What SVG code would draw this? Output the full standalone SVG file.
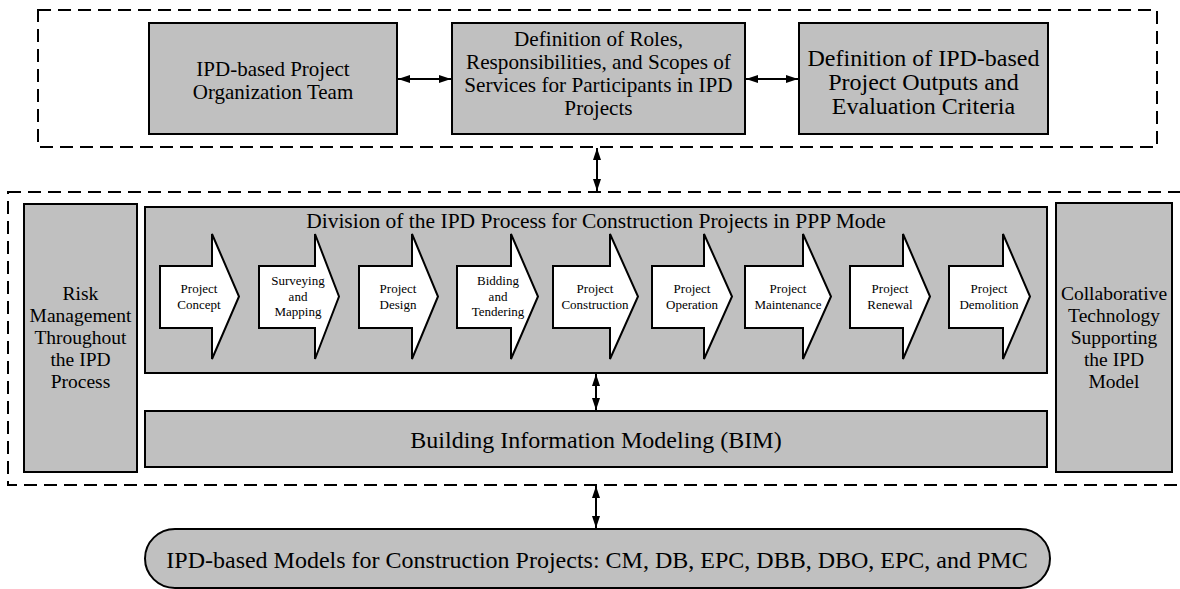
<svg xmlns="http://www.w3.org/2000/svg" width="1180" height="589" viewBox="0 0 1180 589">
<style>
.box{fill:#c0c0c0;stroke:#000;stroke-width:2}
.dash{fill:none;stroke:#000;stroke-width:2;stroke-dasharray:13,7}
.chev{fill:#fff;stroke:#000;stroke-width:2;stroke-linejoin:miter}
.t{font-family:"Liberation Serif","Times New Roman",serif;fill:#000;text-anchor:middle}
.c{font-size:13px}
.conn{stroke:#000;stroke-width:2;fill:none;marker-start:url(#ah);marker-end:url(#ah)}
</style>
<defs>
<marker id="ah" viewBox="0 0 12 8" refX="12" refY="4" markerWidth="12" markerHeight="8" markerUnits="userSpaceOnUse" orient="auto-start-reverse">
<path d="M0,0 L12,4 L0,8 Z" fill="#000"/>
</marker>
</defs>
<rect width="1180" height="589" fill="#fff"/>

<g id="top-group">
<rect class="dash" x="38" y="10" width="1119" height="137"/>
</g>
<g id="mid-group">
<rect class="dash" x="8" y="192" width="1178" height="293"/>
</g>

<g id="team">
<rect class="box" x="149" y="23" width="248" height="111"/>
<text class="t" font-size="21" x="273" y="76">IPD-based Project</text>
<text class="t" font-size="21" x="273" y="99">Organization Team</text>
</g>
<g id="roles">
<rect class="box" x="452" y="23" width="293" height="111"/>
<text class="t" font-size="21.2" x="598.5" y="45.5">Definition of Roles,</text>
<text class="t" font-size="21.2" x="598.5" y="68.5">Responsibilities, and Scopes of</text>
<text class="t" font-size="21.2" x="598.5" y="91.5">Services for Participants in IPD</text>
<text class="t" font-size="21.2" x="598.5" y="114.5">Projects</text>
</g>
<g id="outputs">
<rect class="box" x="799" y="23" width="249" height="111"/>
<text class="t" font-size="24" x="923.5" y="66">Definition of IPD-based</text>
<text class="t" font-size="24" x="923.5" y="90">Project Outputs and</text>
<text class="t" font-size="24" x="923.5" y="114">Evaluation Criteria</text>
</g>

<g id="risk">
<rect class="box" x="24" y="204" width="113" height="268"/>
<text class="t" font-size="19.5" x="80.5" y="300">Risk</text>
<text class="t" font-size="19.5" x="80.5" y="322">Management</text>
<text class="t" font-size="19.5" x="80.5" y="344">Throughout</text>
<text class="t" font-size="19.5" x="80.5" y="366">the IPD</text>
<text class="t" font-size="19.5" x="80.5" y="388">Process</text>
</g>
<g id="collab">
<rect class="box" x="1056" y="203" width="116" height="269"/>
<text class="t" font-size="19.5" x="1114" y="300">Collaborative</text>
<text class="t" font-size="19.5" x="1114" y="322">Technology</text>
<text class="t" font-size="19.5" x="1114" y="344">Supporting</text>
<text class="t" font-size="19.5" x="1114" y="366">the IPD</text>
<text class="t" font-size="19.5" x="1114" y="388">Model</text>
</g>

<g id="division">
<rect class="box" x="145" y="207" width="902" height="166"/>
<text class="t" font-size="21.5" x="596" y="228">Division of the IPD Process for Construction Projects in PPP Mode</text>
</g>

<g id="stage1">
<path class="chev" d="M160,266 H212 V234 L239,296.5 L212,359 V328 H160 Z"/>
<text class="t c" x="199" y="293">Project</text>
<text class="t c" x="199" y="308.5">Concept</text>
</g>
<g id="stage2">
<path class="chev" d="M259,266 H315 V234 L339,296.5 L315,359 V328 H259 Z"/>
<text class="t c" x="298" y="285">Surveying</text>
<text class="t c" x="298" y="300.5">and</text>
<text class="t c" x="298" y="316">Mapping</text>
</g>
<g id="stage3">
<path class="chev" d="M359,266 H412 V234 L438,296.5 L412,359 V328 H359 Z"/>
<text class="t c" x="398" y="293">Project</text>
<text class="t c" x="398" y="308.5">Design</text>
</g>
<g id="stage4">
<path class="chev" d="M457,266 H511 V234 L538,296.5 L511,359 V328 H457 Z"/>
<text class="t c" x="498" y="285">Bidding</text>
<text class="t c" x="498" y="300.5">and</text>
<text class="t c" x="498" y="316">Tendering</text>
</g>
<g id="stage5">
<path class="chev" d="M553,266 H610 V234 L638,296.5 L610,359 V328 H553 Z"/>
<text class="t c" x="595" y="293">Project</text>
<text class="t c" x="595" y="308.5">Construction</text>
</g>
<g id="stage6">
<path class="chev" d="M652,266 H704 V234 L732,296.5 L704,359 V328 H652 Z"/>
<text class="t c" x="692" y="293">Project</text>
<text class="t c" x="692" y="308.5">Operation</text>
</g>
<g id="stage7">
<path class="chev" d="M745,266 H803 V234 L831,296.5 L803,359 V328 H745 Z"/>
<text class="t c" x="788" y="293">Project</text>
<text class="t c" x="788" y="308.5">Maintenance</text>
</g>
<g id="stage8">
<path class="chev" d="M850,266 H903 V234 L930,296.5 L903,359 V328 H850 Z"/>
<text class="t c" x="890" y="293">Project</text>
<text class="t c" x="890" y="308.5">Renewal</text>
</g>
<g id="stage9">
<path class="chev" d="M949,266 H1003 V234 L1030,296.5 L1003,359 V328 H949 Z"/>
<text class="t c" x="989" y="293">Project</text>
<text class="t c" x="989" y="308.5">Demolition</text>
</g>

<g id="bim">
<rect class="box" x="145" y="411" width="902" height="56"/>
<text class="t" font-size="24" x="596" y="448">Building Information Modeling (BIM)</text>
</g>

<g id="models">
<rect class="box" x="145" y="529" width="905" height="59" rx="30" ry="30"/>
<text class="t" font-size="24" x="597" y="568">IPD-based Models for Construction Projects: CM, DB, EPC, DBB, DBO, EPC, and PMC</text>
</g>

<g id="connectors">
<line class="conn" x1="398" y1="79" x2="451" y2="79"/>
<line class="conn" x1="746" y1="79" x2="798" y2="79"/>
<line class="conn" x1="597" y1="148" x2="597" y2="191"/>
<line class="conn" x1="596" y1="374" x2="596" y2="410"/>
<line class="conn" x1="596" y1="486" x2="596" y2="528"/>
</g>
</svg>
